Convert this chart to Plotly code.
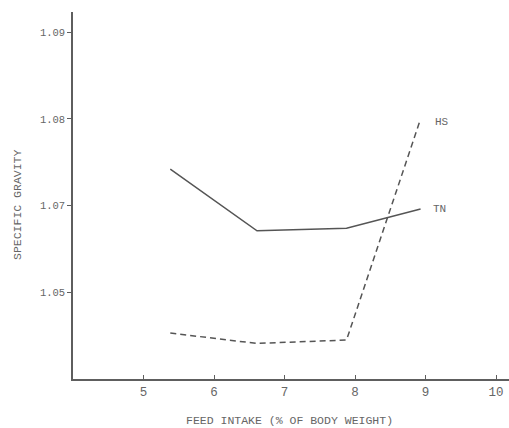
import plotly.graph_objects as go

feed_intake = [5.38, 6.61, 7.88, 8.93]
tn_values = [1.0742, 1.0671, 1.0674, 1.0696]
hs_values = [1.0553, 1.0541, 1.0545, 1.0800]

x_ticks = [5, 6, 7, 8, 9, 10]
y_tickvals = [1.06, 1.07, 1.08, 1.09]
y_ticktext = ["1.05", "1.07", "1.08", "1.09"]

FONT = "Liberation Mono, DejaVu Sans Mono, monospace"
LINE = "#555555"
TXT = "#666666"

fig = go.Figure()
fig.add_trace(go.Scatter(x=feed_intake, y=tn_values, mode="lines",
                         line=dict(color=LINE, width=1.5), name="TN", showlegend=False))
fig.add_trace(go.Scatter(x=feed_intake, y=hs_values, mode="lines",
                         line=dict(color=LINE, width=1.5, dash="6px,4px"), name="HS", showlegend=False))

fig.add_annotation(x=feed_intake[-1], y=hs_values[-1], text="HS", showarrow=False,
                   xanchor="left", yanchor="middle", xshift=12, yshift=-3,
                   font=dict(family=FONT, size=11, color=TXT))
fig.add_annotation(x=feed_intake[-1], y=tn_values[-1], text="TN", showarrow=False,
                   xanchor="left", yanchor="middle", xshift=10, yshift=0,
                   font=dict(family=FONT, size=11, color=TXT))

fig.add_annotation(text="FEED INTAKE (% OF BODY WEIGHT)", xref="paper", yref="paper",
                   x=(289 - 73) / 436, y=0, yshift=-41, showarrow=False,
                   xanchor="center", yanchor="middle",
                   font=dict(family=FONT, size=11.5, color=TXT))
fig.add_annotation(text="SPECIFIC GRAVITY", xref="paper", yref="paper",
                   x=0, xshift=-56, y=(379 - 205) / 367, showarrow=False, textangle=-90,
                   xanchor="center", yanchor="middle",
                   font=dict(family=FONT, size=11.5, color=TXT))

fig.update_xaxes(range=[4.0, 4.0 + 436 / 70.5], tickvals=x_ticks,
                 showline=True, linecolor="#5e5e5e", linewidth=1.5,
                 ticks="inside", ticklen=4, tickcolor="#5e5e5e", tickwidth=1,
                 showgrid=False, zeroline=False,
                 tickfont=dict(family=FONT, size=12.5, color=TXT))
fig.update_yaxes(range=[1.05, 1.05 + 367 / 86.7 * 0.01], tickvals=y_tickvals, ticktext=y_ticktext,
                 showline=True, linecolor="#5e5e5e", linewidth=1.5,
                 ticks="outside", ticklen=4, tickcolor="#5e5e5e", tickwidth=1,
                 showgrid=False, zeroline=False,
                 tickfont=dict(family=FONT, size=10.5, color=TXT))

fig.update_layout(width=509, height=428, margin=dict(l=73, r=0, t=12, b=49),
                  plot_bgcolor="white", paper_bgcolor="white")

fig.write_html("out.html")
